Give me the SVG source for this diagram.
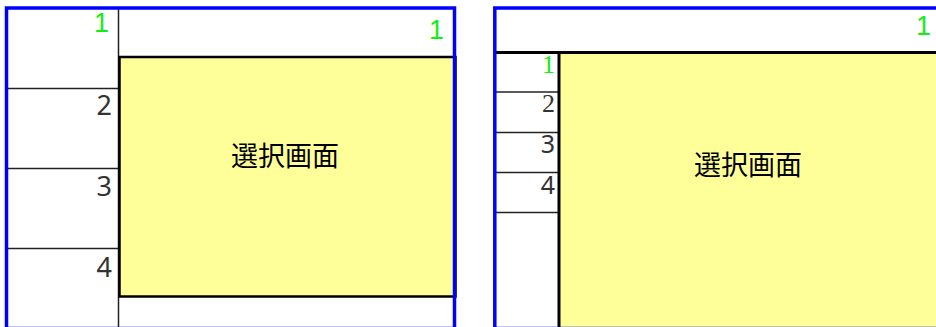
<svg xmlns="http://www.w3.org/2000/svg" width="936" height="327" viewBox="0 0 936 327">
<style>
.frame{fill:none;stroke:#0000ff;stroke-width:3.5}
.screen{fill:#ffff99;stroke:#000;stroke-width:2.5}
.rule{stroke:#222;stroke-width:1.5;fill:none}
.num{font-family:"Noto Sans","Open Sans",sans-serif;font-size:27px;fill:#333;text-anchor:end}
.numsm{font-family:"Noto Sans","Open Sans",sans-serif;font-size:25px;fill:#333;text-anchor:end}
.numserif{font-family:"Liberation Serif","Times New Roman",serif;font-size:26px;fill:#333;text-anchor:end}
.green{fill:#11ee11}
.gsans{font-family:"Liberation Sans",Arial,sans-serif;font-size:27px;fill:#11ee11;text-anchor:end}
.label{font-family:"Noto Sans CJK JP","Noto Sans CJK SC",sans-serif;font-size:27px;fill:#000;text-anchor:middle}
</style>
<rect x="0" y="0" width="936" height="327" fill="#fff"/>
<g id="left-panel">
  <line class="rule" x1="118.5" y1="8" x2="118.5" y2="330"/>
  <line class="rule" x1="7" y1="88.5" x2="118.5" y2="88.5"/>
  <line class="rule" x1="7" y1="168.5" x2="118.5" y2="168.5"/>
  <line class="rule" x1="7" y1="248.5" x2="118.5" y2="248.5"/>
  <g id="left-screen">
    <rect class="screen" x="119.5" y="57" width="336" height="239.5"/>
    <text class="label" x="285" y="166">選択画面</text>
  </g>
  <text class="gsans" x="109" y="32">1</text>
  <text class="num" x="112" y="115">2</text>
  <text class="num" x="112" y="196">3</text>
  <text class="num" x="112" y="277">4</text>
  <text class="gsans" x="444" y="39">1</text>
  <rect class="frame" x="6.5" y="8" width="448" height="320.5"/>
</g>
<g id="right-panel">
  <line class="rule" x1="496" y1="92" x2="558" y2="92"/>
  <line class="rule" x1="496" y1="132.5" x2="558" y2="132.5"/>
  <line class="rule" x1="496" y1="172.5" x2="558" y2="172.5"/>
  <line class="rule" x1="496" y1="212.5" x2="558" y2="212.5"/>
  <line stroke="#000" stroke-width="3" x1="496" y1="52.5" x2="560" y2="52.5"/>
  <g id="right-screen">
    <rect class="screen" style="stroke-width:3" x="559" y="52.5" width="400" height="300"/>
    <text class="label" x="748" y="175">選択画面</text>
  </g>
  <text class="numserif green" x="555" y="73">1</text>
  <text class="numserif" x="555" y="112">2</text>
  <text class="numsm" x="555" y="153">3</text>
  <text class="numsm" x="555" y="194">4</text>
  <text class="gsans" x="931" y="35">1</text>
  <rect class="frame" x="494.8" y="8" width="460" height="320.5"/>
</g>
</svg>
